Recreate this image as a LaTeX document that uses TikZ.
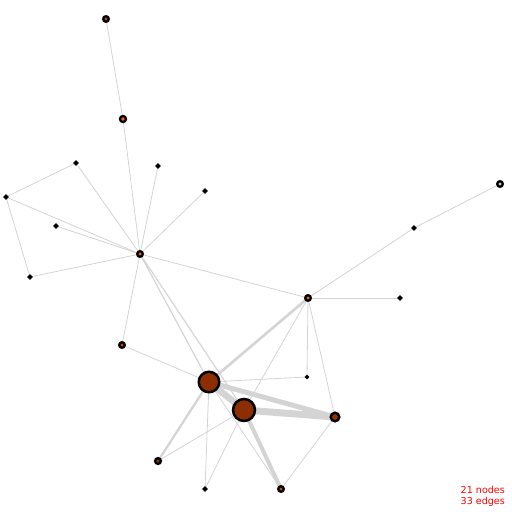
\documentclass[tikz,border=0pt]{standalone}
\usepackage{fontspec}
\newfontfamily\labelfont{DejaVu Sans}
\usetikzlibrary{backgrounds}
\definecolor{edgegray}{RGB}{212,212,212}
\definecolor{bigfill}{RGB}{140,46,0}
\definecolor{midfill}{RGB}{150,52,0}
\definecolor{hot}{RGB}{255,100,0}
\definecolor{warm}{RGB}{200,70,0}
\definecolor{pale}{RGB}{200,200,200}
\tikzset{
  vtx/.style={circle, draw=black, inner sep=0pt, outer sep=0pt},
  tinyv/.style={vtx, fill=black, line width=1.6bp, minimum size=3.4bp},
  smallv/.style={vtx, fill=#1, line width=2.3bp, minimum size=5.6bp},
  bigv/.style={vtx, fill=bigfill, line width=2.5bp, minimum size=#1},
  e/.style={draw=edgegray, line width=#1},
  e/.default=0.8bp,
  countlbl/.style={text=red, font=\labelfont\fontsize{9.6}{11}\selectfont, align=right, anchor=south east, inner sep=0pt}
}
\begin{document}
\begin{tikzpicture}[x=1bp,y=-1bp]
\useasboundingbox (0,0) rectangle (512,512);
% nodes
\node[smallv=warm] (n1) at (106,19) {};
\node[smallv=hot, minimum size=6bp] (n2) at (123,119) {};
\node[tinyv] (n3) at (76,163) {};
\node[tinyv] (n4) at (158,166) {};
\node[tinyv] (n5) at (205,191) {};
\node[tinyv] (n6) at (6,197) {};
\node[tinyv] (n7) at (56,226) {};
\node[smallv=hot] (n8) at (140,254) {};
\node[tinyv] (n9) at (30,277) {};
\node[smallv=pale] (n10) at (500,184) {};
\node[tinyv] (n11) at (414,228) {};
\node[smallv=hot] (n12) at (308,298) {};
\node[tinyv] (n13) at (400,298) {};
\node[smallv=warm] (n14) at (122,345) {};
\node[tinyv, minimum size=2.6bp] (n15) at (307,377) {};
\node[bigv=20.5bp] (n16) at (209,382) {};
\node[bigv=22bp] (n17) at (244,410) {};
\node[vtx, fill=midfill, line width=2.4bp, minimum size=8.6bp] (n18) at (335,417) {};
\node[smallv=midfill, minimum size=5.8bp] (n19) at (158,461) {};
\node[tinyv] (n20) at (205,489) {};
\node[smallv=warm] (n21) at (281,489) {};
% edges
\begin{pgfonlayer}{background}
\path[e] (n1) -- (n2);
\path[e] (n2) -- (n8);
\path[e] (n3) -- (n6);
\path[e] (n3) -- (n8);
\path[e] (n6) -- (n8);
\path[e] (n6) -- (n9);
\path[e] (n4) -- (n8);
\path[e] (n5) -- (n8);
\path[e] (n7) -- (n8);
\path[e] (n9) -- (n8);
\path[e] (n8) -- (n12);
\path[e] (n8) -- (n14);
\path[e=1.2bp] (n8) -- (n16);
\path[e=1.2bp] (n8) -- (n17);
\path[e] (n10) -- (n11);
\path[e] (n11) -- (n12);
\path[e] (n12) -- (n13);
\path[e=2.6bp] (n12) -- (n16);
\path[e] (n12) -- (n17);
\path[e] (n12) -- (n15);
\path[e] (n12) -- (n18);
\path[e] (n14) -- (n16);
\path[e] (n16) -- (n15);
\path[e=6.5bp] (n16) -- (n17);
\path[e=5bp] (n16) -- (n18);
\path[e=7bp] (n17) -- (n18);
\path[e=2.2bp] (n16) -- (n19);
\path[e] (n17) -- (n19);
\path[e] (n16) -- (n20);
\path[e] (n17) -- (n20);
\path[e=4bp] (n17) -- (n21);
\path[e] (n16) -- (n21);
\path[e] (n18) -- (n21);
\end{pgfonlayer}
\node[countlbl] (count) at (505,507) {21 nodes\\33 edges};
\end{tikzpicture}
\end{document}
